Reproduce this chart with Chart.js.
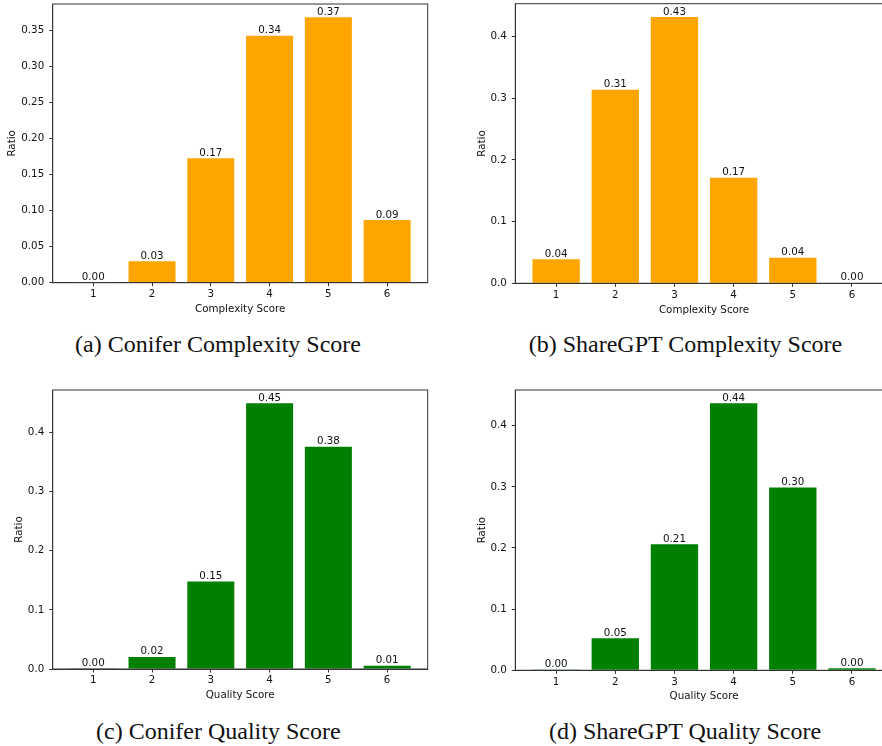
<!DOCTYPE html>
<html><head><meta charset="utf-8">
<script src="https://cdn.jsdelivr.net/npm/chart.js@4.4.0/dist/chart.umd.min.js"></script>
<style>
html,body{margin:0;padding:0;background:#fff;overflow:hidden;width:882px;height:746px;position:relative}
.box{position:absolute}
.cap{position:absolute;font-family:"Liberation Serif","Times New Roman",serif;font-size:24px;line-height:24px;color:#111;white-space:nowrap;transform:translateX(-50%)}
</style></head><body>
<div class="box" id="ba"><canvas id="ca"></canvas></div>
<div class="box" id="bb"><canvas id="cb"></canvas></div>
<div class="box" id="bc"><canvas id="cc"></canvas></div>
<div class="box" id="bd"><canvas id="cd"></canvas></div>
<div class="cap" style="left:218px;top:331.6px">(a) Conifer Complexity Score</div>
<div class="cap" style="left:685.5px;top:332px">(b) ShareGPT Complexity Score</div>
<div class="cap" style="left:218.3px;top:719px">(c) Conifer Quality Score</div>
<div class="cap" style="left:685px;top:719px">(d) ShareGPT Quality Score</div>
<script>
// ---- data ----
const scores = [1, 2, 3, 4, 5, 6];
const coniferComplexity = [0.0003, 0.0297, 0.1728, 0.343, 0.3686, 0.087];
const sharegptComplexity = [0.039, 0.314, 0.4318, 0.171, 0.0415, 0.001];
const coniferQuality = [0.0003, 0.0203, 0.148, 0.449, 0.3757, 0.0055];
const sharegptQuality = [0.0015, 0.0523, 0.206, 0.4365, 0.299, 0.0033];
const ticksFine = [0, 0.05, 0.10, 0.15, 0.20, 0.25, 0.30, 0.35];
const ticksCoarse = [0, 0.1, 0.2, 0.3, 0.4];
const xTitleComplexity = 'Complexity Score';
const xTitleQuality = 'Quality Score';
const yTitle = 'Ratio';
const ORANGE = '#FFA500';
const GREEN = '#008000';

const FONT = {family: "'DejaVu Sans', sans-serif", size: 10.3};
const INK = '#111';

const framePlugin = {
  id: 'frame',
  afterDraw(chart) {
    const {ctx, chartArea: a} = chart;
    ctx.save();
    ctx.strokeStyle = '#333';
    ctx.lineWidth = 1;
    ctx.strokeRect(a.left, a.top, a.right - a.left, a.bottom - a.top);
    ctx.restore();
  }
};
const labelPlugin = {
  id: 'barLabels',
  afterDatasetsDraw(chart) {
    const {ctx} = chart;
    const meta = chart.getDatasetMeta(0);
    const vals = chart.data.datasets[0].data;
    ctx.save();
    ctx.font = "10.3px 'DejaVu Sans', sans-serif";
    ctx.fillStyle = INK;
    ctx.textAlign = 'center';
    ctx.textBaseline = 'alphabetic';
    meta.data.forEach((bar, i) => {
      ctx.fillText(vals[i].y.toFixed(2), bar.x, bar.y - 2.5);
    });
    ctx.restore();
  }
};

function make(id, boxId, g) {
  const box = document.getElementById(boxId);
  Object.assign(box.style, {left: g.x + 'px', top: g.y + 'px', width: g.w + 'px', height: g.h + 'px'});
  const maxV = Math.max(...g.values) * 1.05;
  new Chart(document.getElementById(id), {
    type: 'bar',
    data: {
      datasets: [{
        data: scores.map((s, i) => ({x: s, y: g.values[i]})),
        backgroundColor: g.color,
        borderWidth: 0,
        barPercentage: 0.8,
        categoryPercentage: 1.0
      }]
    },
    options: {
      responsive: true, maintainAspectRatio: false, animation: false,
      layout: {padding: {left: g.pl, top: g.pt, right: g.pr, bottom: g.pb}},
      plugins: {legend: {display: false}, tooltip: {enabled: false}},
      scales: {
        x: {
          type: 'linear', min: 0.31, max: 6.69, offset: false,
          afterBuildTicks: s => { s.ticks = scores.map(v => ({value: v})); },
          afterFit: s => { s.height = g.xh; s.paddingLeft = 0; s.paddingRight = 0; },
          ticks: {font: FONT, color: INK, padding: 2, maxRotation: 0, autoSkip: false, callback: v => String(v)},
          grid: {offset: false, drawOnChartArea: false, drawTicks: true, tickLength: 3.5, color: '#333', lineWidth: 1},
          border: {display: true, color: '#333', width: 1},
          title: {display: true, text: g.xt, font: FONT, color: INK, padding: 0}
        },
        y: {
          type: 'linear', min: 0, max: maxV,
          afterBuildTicks: s => { s.ticks = g.ticks.map(v => ({value: v})); },
          afterFit: s => { s.width = g.yw; s.paddingTop = 0; s.paddingBottom = 0; },
          ticks: {font: FONT, color: INK, padding: 5, autoSkip: false, callback: v => v.toFixed(g.dec)},
          grid: {drawOnChartArea: false, drawTicks: true, tickLength: 3.5, color: '#333', lineWidth: 1},
          border: {display: true, color: '#333', width: 1},
          title: {display: true, text: yTitle, font: FONT, color: INK, padding: 0}
        }
      }
    },
    plugins: [framePlugin, labelPlugin]
  });
}

make('ca', 'ba', {x: 0, y: 0, w: 441, h: 320, pl: 6.3, pt: 4, pr: 13.3, pb: 4.7, yw: 46.4, xh: 32.6,
  values: coniferComplexity, color: ORANGE, ticks: ticksFine, dec: 2, xt: xTitleComplexity});
make('cb', 'bb', {x: 441, y: 0, w: 452, h: 320, pl: 34.7, pt: 3.7, pr: 0.2, pb: 3.7, yw: 39.6, xh: 33,
  values: sharegptComplexity, color: ORANGE, ticks: ticksCoarse, dec: 1, xt: xTitleComplexity});
make('cc', 'bc', {x: 0, y: 380, w: 441, h: 330, pl: 13, pt: 10, pr: 13.3, pb: 8, yw: 39.7, xh: 33,
  values: coniferQuality, color: GREEN, ticks: ticksCoarse, dec: 1, xt: xTitleQuality});
make('cd', 'bd', {x: 441, y: 380, w: 452, h: 330, pl: 34.7, pt: 10, pr: 0.2, pb: 7, yw: 39.6, xh: 32.7,
  values: sharegptQuality, color: GREEN, ticks: ticksCoarse, dec: 1, xt: xTitleQuality});
</script>
</body></html>
